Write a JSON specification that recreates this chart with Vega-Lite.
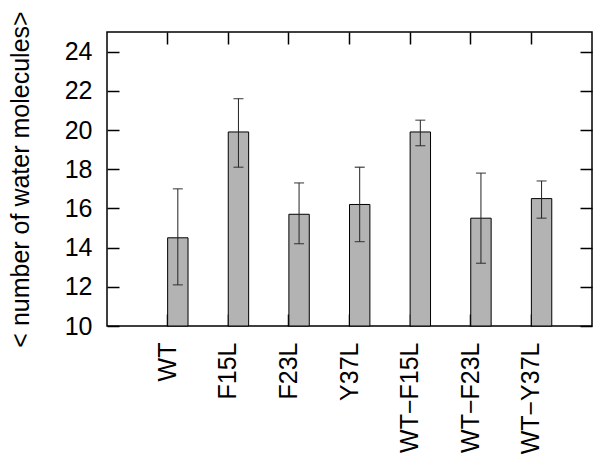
{
  "$schema": "https://vega.github.io/schema/vega-lite/v6.json",
  "width": 485,
  "height": 294,
  "autosize": "none",
  "padding": {"left": 107, "top": 32, "right": 10, "bottom": 138},
  "config": {
    "view": {"stroke": "black", "strokeWidth": 1.5},
    "font": "Liberation Sans"
  },
  "data": {
    "values": [
      {"group": "WT", "mean": 14.5, "lo": 12.1, "hi": 17.0},
      {"group": "F15L", "mean": 19.9, "lo": 18.1, "hi": 21.6},
      {"group": "F23L", "mean": 15.7, "lo": 14.2, "hi": 17.3},
      {"group": "Y37L", "mean": 16.2, "lo": 14.3, "hi": 18.1},
      {"group": "WT−F15L", "mean": 19.9, "lo": 19.2, "hi": 20.5},
      {"group": "WT−F23L", "mean": 15.5, "lo": 13.2, "hi": 17.8},
      {"group": "WT−Y37L", "mean": 16.5, "lo": 15.5, "hi": 17.4}
    ]
  },
  "layer": [
    {
      "mark": {"type": "bar", "width": 20.4, "xOffset": 10.2, "fill": "#b3b3b3", "stroke": "black", "strokeWidth": 1},
      "encoding": {
        "x": {
          "field": "group", "type": "nominal", "sort": null,
          "scale": {"paddingInner": 0, "paddingOuter": 0.5},
          "axis": {"orient": "bottom", "title": null, "labelAngle": -90, "labelFontSize": 25, "labelColor": "black", "labelPadding": 28, "tickSize": -12, "tickColor": "black", "tickWidth": 1.5, "domain": false, "labelOverlap": false, "labelBound": false}
        },
        "y": {
          "field": "mean", "type": "quantitative",
          "scale": {"domain": [10, 25], "zero": false, "nice": false},
          "axis": {"orient": "left", "values": [10, 12, 14, 16, 18, 20, 22, 24], "title": "< number of water molecules>", "titleFontSize": 25, "titleFontWeight": "normal", "titleColor": "black", "titlePadding": 31, "labelFontSize": 25, "labelColor": "black", "labelPadding": 27, "tickSize": -12, "tickColor": "black", "tickWidth": 1.5, "domain": false, "grid": false}
        },
        "y2": {"datum": 10}
      }
    },
    {
      "mark": {"type": "rule", "xOffset": 10.2, "color": "#222222", "strokeWidth": 1},
      "encoding": {
        "x": {
          "field": "group", "type": "nominal", "sort": null,
          "axis": {"orient": "top", "labels": false, "title": null, "tickSize": -12, "tickColor": "black", "tickWidth": 1.5, "domain": false}
        },
        "y": {
          "field": "lo", "type": "quantitative",
          "axis": {"orient": "right", "labels": false, "title": null, "values": [10, 12, 14, 16, 18, 20, 22, 24], "tickSize": -12, "tickColor": "black", "tickWidth": 1.5, "domain": false, "grid": false}
        },
        "y2": {"field": "hi"}
      }
    },
    {
      "mark": {"type": "tick", "orient": "horizontal", "size": 10, "thickness": 1.3, "xOffset": 10.2, "color": "#222222"},
      "encoding": {
        "x": {"field": "group", "type": "nominal", "sort": null, "axis": null},
        "y": {"field": "lo", "type": "quantitative", "axis": null}
      }
    },
    {
      "mark": {"type": "tick", "orient": "horizontal", "size": 10, "thickness": 1.3, "xOffset": 10.2, "color": "#222222"},
      "encoding": {
        "x": {"field": "group", "type": "nominal", "sort": null, "axis": null},
        "y": {"field": "hi", "type": "quantitative", "axis": null}
      }
    }
  ],
  "resolve": {"axis": {"x": "independent", "y": "independent"}}
}
